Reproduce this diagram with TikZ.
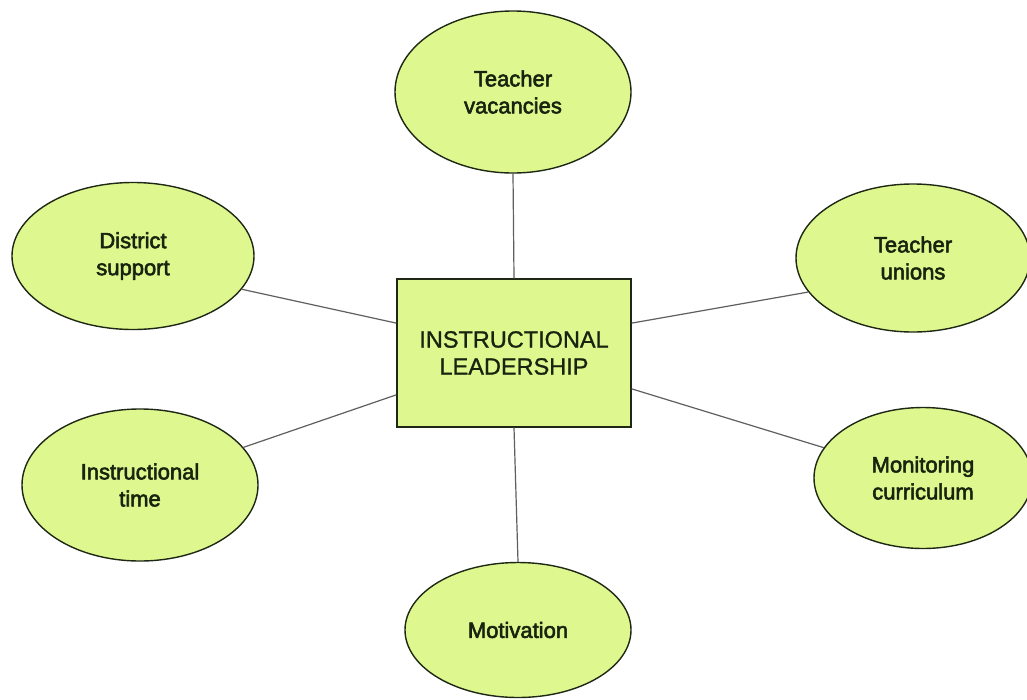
\documentclass[tikz,border=0pt]{standalone}
\usepackage{fontspec}
\setmainfont{Liberation Sans}
\newfontfamily\bubblefont[FakeBold=2.5]{Liberation Sans}
\newfontfamily\boxfont[FakeBold=1]{Liberation Sans}
\usetikzlibrary{shapes.geometric,calc}
\definecolor{fillgreen}{RGB}{222,247,142}
\definecolor{edgedark}{RGB}{30,40,20}
\definecolor{linegrey}{RGB}{95,95,95}
\definecolor{txt}{RGB}{25,35,15}
\begin{document}
\begin{tikzpicture}[x=1pt,y=-1pt,
  bubble/.style={ellipse,draw=edgedark,line width=1.4pt,fill=fillgreen,inner sep=0pt,
    align=center,text=txt,font=\bubblefont\fontsize{22}{27}\selectfont},
  centerbox/.style={rectangle,draw=edgedark,line width=1.4pt,fill=fillgreen,inner sep=0pt,
    align=center,text=txt,font=\boxfont\fontsize{23.5}{27}\selectfont,
    minimum width=234pt,minimum height=148pt},
  link/.style={draw=linegrey,line width=1.2pt}]
\useasboundingbox[fill=white] (0,0) rectangle (1027,699);
\begin{scope}
\clip (0,0) rectangle (1027,699);
\node[centerbox] (box) at (514,353) {INSTRUCTIONAL\\LEADERSHIP};
\node[bubble,minimum width=236pt,minimum height=162pt] (tv) at (513,92) {Teacher\\vacancies};
\node[bubble,minimum width=242pt,minimum height=147pt] (ds) at (133,256) {District\\support};
\node[bubble,minimum width=234pt,minimum height=148pt] (tu) at (913,258) {Teacher\\unions};
\node[bubble,minimum width=236pt,minimum height=152pt] (it) at (140,485) {Instructional\\time};
\node[bubble,minimum width=218pt,minimum height=141pt] (mc) at (923,478) {Monitoring\\curriculum};
\node[bubble,minimum width=226pt,minimum height=135pt] (mo) at (518,630) {Motivation};
\draw[link] (box.north) -- (tv.south);
\draw[link] (ds.-17) -- ($(box.north west)!0.30!(box.south west)$);
\draw[link] (it.20.5) -- ($(box.north west)!0.78!(box.south west)$);
\draw[link] (tu.198) -- ($(box.north east)!0.30!(box.south east)$);
\draw[link] (mc.163) -- ($(box.north east)!0.74!(box.south east)$);
\draw[link] (box.south) -- (mo.north);
\end{scope}
\end{tikzpicture}
\end{document}
